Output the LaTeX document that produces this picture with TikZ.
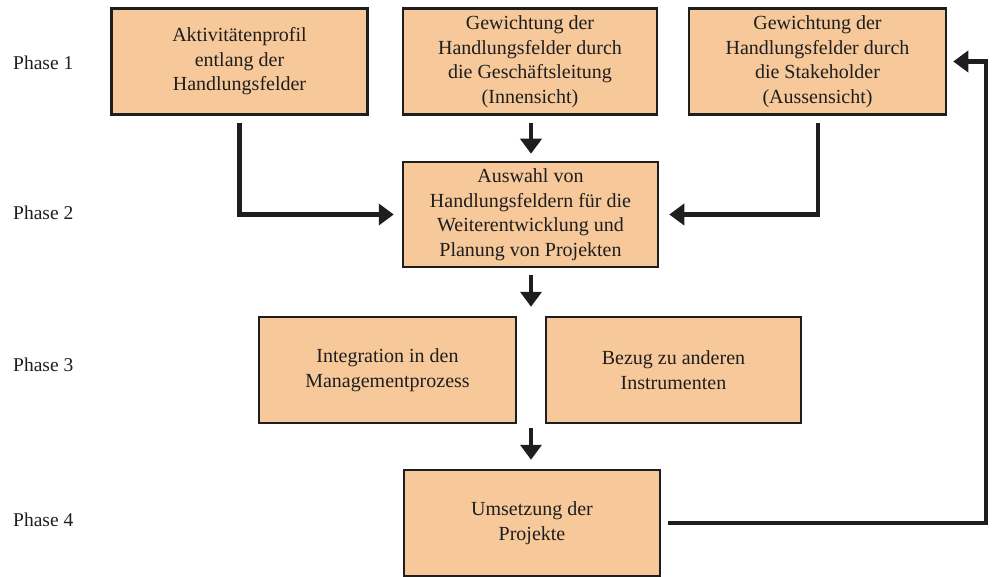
\documentclass[tikz,border=0pt]{standalone}
\usepackage{fontspec}
\setmainfont{Liberation Serif}
\usetikzlibrary{arrows.meta,calc}
\definecolor{boxfill}{HTML}{F6C89A}
\definecolor{ink}{HTML}{1E1E1E}
\begin{document}
\begin{tikzpicture}[x=1pt,y=-1pt,
  box/.style={draw=ink,line width=2.5pt,fill=boxfill,minimum width=256pt,minimum height=106pt,
    inner sep=0pt,align=center,text=ink,font=\fontsize{20}{24.5}\selectfont},
  phase/.style={anchor=west,inner sep=0pt,text=ink,font=\fontsize{19.5}{24}\selectfont},
  arr/.style={draw=ink,line width=4.2pt,-{Triangle[length=15pt,width=21pt]}}]
\useasboundingbox (0,0) rectangle (992,577);
\node[box] (A) at (239.5,61.5) {Aktivitätenprofil\\entlang der\\Handlungsfelder};
\node[box,minimum width=254pt] (B) at (530,61.5) {Gewichtung der\\Handlungsfelder durch\\die Geschäftsleitung\\(Innensicht)};
\node[box,minimum width=257pt] (C) at (817.5,61.5) {Gewichtung der\\Handlungsfelder durch\\die Stakeholder\\(Aussensicht)};
\node[box,minimum width=255pt,minimum height=105pt] (D) at (530.5,214.5) {Auswahl von\\Handlungsfeldern für die\\Weiterentwicklung und\\Planung von Projekten};
\node[box,minimum width=257pt] (E) at (387.5,370) {Integration in den\\Managementprozess};
\node[box,minimum width=255pt] (F) at (673.5,370) {Bezug zu anderen\\Instrumenten};
\node[box] (G) at (532,523) {Umsetzung der\\Projekte};
\node[phase] (p1) at (13,63) {Phase 1};
\node[phase] (p2) at (13,213) {Phase 2};
\node[phase] (p3) at (13,365) {Phase 3};
\node[phase] (p4) at (13,520) {Phase 4};
\coordinate (EFmid) at (531,423);
\coordinate (rt) at (986,523);
\draw[arr,-] ($(A.south)+(0,7)$) |- ($(D.west)+(-23,0)$);
\draw[arr] ($(D.west)+(-24,0)$) -- ($(D.west)+(-8,0)$);
\draw[arr] ($(B.south)+(1,7)$) -- ($(D.north)+(0.5,-7)$);
\draw[arr,-] ($(C.south)+(0.5,7)$) |- ($(D.east)+(25,0)$);
\draw[arr] ($(D.east)+(26,0)$) -- ($(D.east)+(10,0)$);
\draw[arr] ($(D.south)+(0.5,7)$) -- ($(E.north)+(143.5,-9)$);
\draw[arr] ($(EFmid)+(0,5)$) -- ($(G.north)+(-1,-9)$);
\draw[arr,-] ($(G.east)+(7,0)$) -- (rt) |- ($(C.east)+(25,0)$);
\draw[arr] ($(C.east)+(26,0)$) -- ($(C.east)+(6,0)$);
\end{tikzpicture}
\end{document}
